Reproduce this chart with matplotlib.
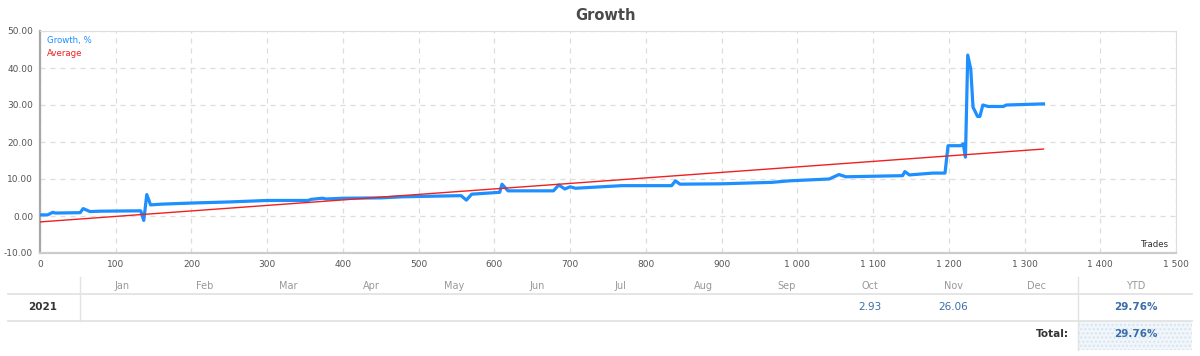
import matplotlib
matplotlib.use('Agg')
import matplotlib.pyplot as plt
from matplotlib.lines import Line2D
from matplotlib.patches import Rectangle
from matplotlib.ticker import FuncFormatter

plt.rcParams['font.family'] = ['DejaVu Sans']

# data
trades = [0, 10, 17, 20, 53, 57, 66, 80, 133, 137, 141, 146, 160, 200, 250, 300, 354, 358, 373, 378,
          400, 450, 480, 556, 563, 570, 607, 610, 618, 678, 685, 693, 700, 707, 768, 834, 839, 845, 900, 967,
          989, 1042, 1055, 1064, 1139, 1142, 1148, 1179, 1195, 1199, 1216, 1219, 1222, 1225, 1229, 1232, 1238, 1241, 1245, 1252,
          1272, 1276, 1325]
growth = [0.3, 0.3, 1.0, 0.8, 0.9, 2.0, 1.2, 1.3, 1.4, -1.2, 5.8, 3.0, 3.2, 3.5, 3.8, 4.2, 4.2, 4.5, 4.8, 4.6,
          4.8, 4.9, 5.2, 5.5, 4.3, 5.9, 6.4, 8.6, 6.8, 6.8, 8.4, 7.3, 7.9, 7.5, 8.2, 8.2, 9.5, 8.6, 8.7, 9.1,
          9.5, 10.0, 11.2, 10.6, 10.9, 12.0, 11.1, 11.6, 11.6, 19.0, 19.0, 19.5, 15.9, 43.5, 39.7, 29.4, 26.9, 26.9, 30.0, 29.6,
          29.6, 30.0, 30.3]
avg_trades = [0, 1325]
avg_values = [-1.6, 18.1]

months = ['Jan', 'Feb', 'Mar', 'Apr', 'May', 'Jun', 'Jul', 'Aug', 'Sep', 'Oct', 'Nov', 'Dec']
year = '2021'
month_values = ['', '', '', '', '', '', '', '', '', '2.93', '26.06', '']
ytd = '29.76%'
total = '29.76%'

W, H = 1200, 356
fig = plt.figure(figsize=(12, 3.56), dpi=100)
ax = fig.add_axes([40 / W, 1 - 253 / H, (1176 - 40) / W, (253 - 31) / H])

blue = '#1e8fff'
red = '#f02020'
ax.plot(trades, growth, color=blue, linewidth=2.3, solid_joinstyle='round', zorder=3)
ax.plot(avg_trades, avg_values, color=red, linewidth=1.0, zorder=4)

ax.set_xlim(0, 1500)
ax.set_ylim(-10, 50)
ax.set_xticks(range(0, 1501, 100))
ax.set_yticks(range(-10, 51, 10))
ax.xaxis.set_major_formatter(FuncFormatter(lambda v, p: '{:,}'.format(int(v)).replace(',', ' ')))
ax.yaxis.set_major_formatter(FuncFormatter(lambda v, p: '%.2f' % v))
ax.tick_params(length=0, labelsize=6.5, colors='#555555', pad=5)
ax.grid(True, color='#dddddd', linestyle=(0, (4, 4)), linewidth=0.9)
ax.set_axisbelow(True)
ax.spines['left'].set_color('#a8a8a8')
ax.spines['left'].set_linewidth(1.6)
ax.spines['bottom'].set_color('#cccccc')
ax.spines['bottom'].set_linewidth(1.6)
ax.spines['top'].set_color('#dddddd')
ax.spines['right'].set_color('#dddddd')

ax.text(0.006, 0.955, 'Growth, %', transform=ax.transAxes, color=blue, fontsize=6.2, va='center')
ax.text(0.006, 0.897, 'Average', transform=ax.transAxes, color=red, fontsize=6.2, va='center')
ax.text(0.994, 0.04, 'Trades', transform=ax.transAxes, color='#333333', fontsize=6.2, ha='right', va='center')

fig.text(605 / W, 1 - 16 / H, 'Growth', ha='center', va='center', fontsize=10.5,
         fontweight='bold', color='#4a4a4a')

# monthly table below the chart
def fx(px):
    return px / W

def fy(py):
    return 1 - py / H

line_c = '#e3e3e3'
fig.add_artist(Line2D([fx(8), fx(1192)], [fy(294), fy(294)], color=line_c, lw=1.3))
fig.add_artist(Line2D([fx(8), fx(1192)], [fy(321), fy(321)], color=line_c, lw=1.3))
fig.add_artist(Line2D([fx(80), fx(80)], [fy(277), fy(321)], color=line_c, lw=1))
fig.add_artist(Line2D([fx(1078), fx(1078)], [fy(277), fy(350)], color=line_c, lw=1))
fig.add_artist(Rectangle((fx(1078), fy(350)), fx(1192) - fx(1078), fy(321) - fy(350),
                         facecolor='#f1f6fb', edgecolor='#d6e4f2', hatch='....', lw=0, zorder=0))

col_w = (1078 - 80) / 12
for i, m in enumerate(months):
    cx = fx(80 + col_w * (i + 0.5))
    fig.text(cx, fy(286), m, ha='center', va='center', fontsize=7, color='#999999')
    if month_values[i]:
        fig.text(cx, fy(307), month_values[i], ha='center', va='center', fontsize=7.5, color='#3a6ea8')
fig.text(fx(1136), fy(286), 'YTD', ha='center', va='center', fontsize=7, color='#999999')
fig.text(fx(43), fy(307), year, ha='center', va='center', fontsize=7.5, fontweight='bold', color='#333333')
fig.text(fx(1136), fy(307), ytd, ha='center', va='center', fontsize=7.5, fontweight='bold', color='#3a6ea8')
fig.text(fx(1069), fy(334), 'Total:', ha='right', va='center', fontsize=7.5, fontweight='bold', color='#333333')
fig.text(fx(1136), fy(334), total, ha='center', va='center', fontsize=7.5, fontweight='bold', color='#3a6ea8')

fig.savefig('out.png', dpi=100)
